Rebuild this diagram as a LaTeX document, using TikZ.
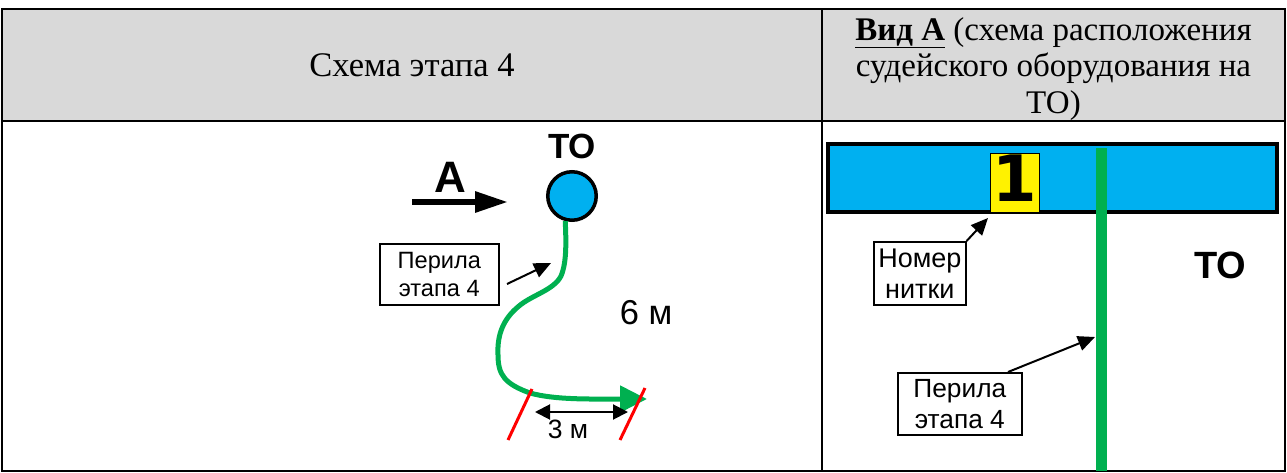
\documentclass[tikz,border=0pt]{standalone}
\usepackage{fontspec}
\setmainfont{Liberation Serif}
\newfontfamily\labelfont{Liberation Sans}
\newfontfamily\digitfont{DejaVu Sans}
\usetikzlibrary{arrows.meta}
\definecolor{headgray}{HTML}{D9D9D9}
\definecolor{toblue}{HTML}{00B0F0}
\definecolor{railgreen}{HTML}{00B050}
\begin{document}
\begin{tikzpicture}
  [x=1pt,y=-1pt,
   cell/.style={draw,line width=2pt,inner sep=0pt,anchor=north west},
   headcell/.style={cell,fill=headgray,font=\fontsize{#1}{36.5}\selectfont,align=center},
   notebox/.style={draw,line width=1.6pt,fill=white,inner sep=0pt,anchor=north west,align=center},
   notetext/.style 2 args={font=\labelfont\fontsize{#1}{#2}\selectfont},
   toname/.style={font=\labelfont\bfseries\fontsize{#1}{#1}\selectfont},
   size/.style={font=\labelfont\fontsize{#1}{#1}\selectfont},
   pointer/.style={-{Triangle[length=17pt,width=15pt]},line width=2pt},
   rail/.style={railgreen}]
  \useasboundingbox (0,0) rectangle (1287,473);
  % table
  \node[headcell=34.5,minimum width=820pt,minimum height=112pt] (headleft) at (1,8) {Схема этапа 4};
  \node[headcell=33,minimum width=463pt,minimum height=112pt] (headright) at (821,8)
    {\rule{0pt}{31pt}\underline{\textbf{Вид А}} (схема расположения\\судейского оборудования на\\ТО)};
  \node[cell,minimum width=820pt,minimum height=350pt] (bodyleft) at (1,120) {};
  \node[cell,minimum width=463pt,minimum height=350pt] (bodyright) at (821,120) {};
  % left scheme
  \node[circle,draw,line width=3.5pt,fill=toblue,minimum size=48.5pt,inner sep=0pt] (tocircle) at (572,196) {};
  \node[toname=35] (toleft) at (572,146) {ТО};
  \node[font=\labelfont\bfseries\fontsize{44}{44}\selectfont] (viewa) at (450,177) {А};
  \coordinate (viewstart) at (412,202);
  \coordinate (viewend) at (508,202);
  \draw[-{Triangle[length=33pt,width=20pt]},line width=6pt] (viewstart) -- (viewend);
  \node[notebox,notetext={23.6}{28},minimum width=119pt,minimum height=61pt] (noteleft) at (379,243) {Перила\\этапа 4};
  \coordinate (noteleftstart) at (507,284);
  \coordinate (noteleftend) at (551,263);
  \draw[pointer] (noteleftstart) -- (noteleftend);
  \coordinate (railend) at (647,399);
  \draw[rail,line width=5pt,-{Triangle[length=27pt,width=26pt]}] (tocircle.255)
    .. controls (566,240) and (567,262) .. (561,276)
    .. controls (554,290) and (532,295) .. (519,306)
    .. controls (503,319) and (497,335) .. (498,355)
    .. controls (498,375) and (505,384) .. (530,393)
    .. controls (555,400) and (590,399) .. (railend);
  \coordinate (redaa) at (532,389);
  \coordinate (redab) at (508,440);
  \coordinate (redba) at (645,388);
  \coordinate (redbb) at (620,440);
  \draw[red,line width=3pt] (redaa) -- (redab);
  \draw[red,line width=3pt] (redba) -- (redbb);
  \coordinate (dima) at (535,412);
  \coordinate (dimb) at (628,412);
  \draw[{Triangle[length=15pt,width=15pt]}-{Triangle[length=15pt,width=15pt]},line width=2pt] (dima) -- (dimb);
  \node[size=26.5] (threem) at (568,429) {3 м};
  \node[size=34.5] (sixm) at (646,313) {6 м};
  % view A
  \node[cell,line width=4pt,fill=toblue,minimum width=449pt,minimum height=68pt] (toplank) at (826,142) {};
  \node[draw,line width=1pt,fill=yellow,inner sep=0pt,minimum width=49pt,minimum height=59pt,anchor=north west,
    font=\digitfont\bfseries\fontsize{64}{64}\selectfont] (number) at (990,153) {\raisebox{9pt}{1}};
  \coordinate (railtop) at (1101,148);
  \coordinate (railbottom) at (1101,471);
  \draw[rail,line width=11pt] (railtop) -- (railbottom);
  \node[notebox,notetext={27}{31},minimum width=92pt,minimum height=63pt] (notenumber) at (873,241) {Номер\\нитки};
  \coordinate (numberend) at (988,218);
  \draw[pointer] (notenumber.north east) -- (numberend);
  \node[toname=38] (toright) at (1220,265) {ТО};
  \node[notebox,notetext={26.3}{31},minimum width=124pt,minimum height=62pt] (noteright) at (897,372) {Перила\\этапа 4};
  \coordinate (noterightstart) at (1008,372);
  \coordinate (noterightend) at (1095,337);
  \draw[pointer] (noterightstart) -- (noterightend);
\end{tikzpicture}
\end{document}
